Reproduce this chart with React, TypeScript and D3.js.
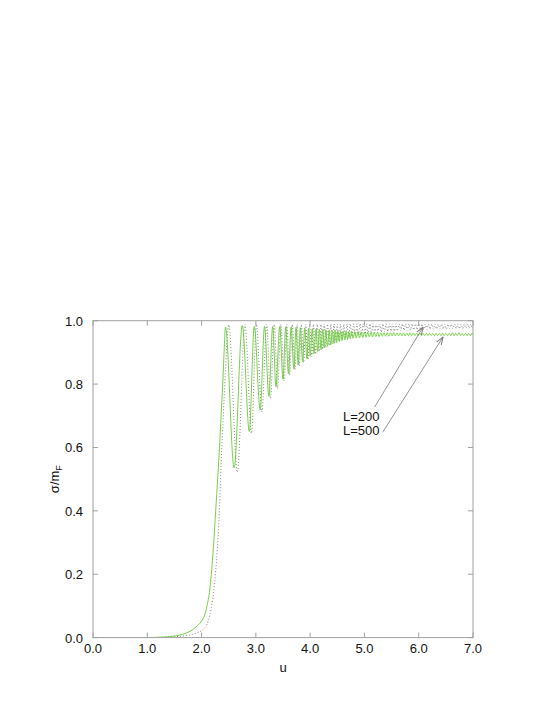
import React from "react";
import * as d3 from "d3";

const xTicks = [0, 1, 2, 3, 4, 5, 6, 7];
const yTicks = [0, 0.2, 0.4, 0.6, 0.8, 1.0];

// L=200 (black dotted): u, sigma/mF
const curveL200: [number, number][] = [
  [0, 0], [1.0, 0], [1.2, 0.0005], [1.4, 0.002], [1.6, 0.004], [1.8, 0.009], [1.9, 0.014], [2.0, 0.022],
  [2.05, 0.03], [2.1, 0.042], [2.15, 0.07], [2.18, 0.095], [2.22, 0.14], [2.26, 0.21], [2.29, 0.28],
  [2.33, 0.41], [2.36, 0.55], [2.4, 0.7], [2.44, 0.84], [2.47, 0.94], [2.5, 0.987],
  [2.66, 0.522], [2.8, 0.988], [2.92, 0.645], [3.01, 0.988], [3.11, 0.712], [3.2, 0.988], [3.27, 0.755],
  [3.34, 0.988], [3.4, 0.786], [3.46, 0.988], [3.52, 0.81], [3.57, 0.988], [3.62, 0.829], [3.67, 0.988],
  [3.72, 0.845], [3.76, 0.988], [3.8, 0.857], [3.84, 0.988], [3.88, 0.868], [3.92, 0.988], [3.96, 0.878],
  [3.99, 0.988], [4.03, 0.887], [4.06, 0.988], [4.1, 0.895], [4.13, 0.988], [4.17, 0.903], [4.2, 0.988],
  [4.23, 0.91], [4.26, 0.989], [4.29, 0.916], [4.32, 0.989], [4.35, 0.922], [4.38, 0.989], [4.41, 0.927],
  [4.44, 0.989], [4.47, 0.932], [4.5, 0.989], [4.53, 0.936], [4.56, 0.989], [4.59, 0.94], [4.62, 0.989],
  [4.65, 0.944], [4.68, 0.989], [4.71, 0.947], [4.74, 0.99], [4.77, 0.95], [4.8, 0.99], [4.83, 0.952],
  [4.86, 0.99], [4.89, 0.954], [4.92, 0.99], [4.95, 0.956], [4.98, 0.99], [5.01, 0.958], [5.04, 0.99],
  [5.07, 0.959], [5.1, 0.99], [5.13, 0.96], [5.16, 0.99], [5.19, 0.962], [5.22, 0.99], [5.25, 0.963],
  [5.28, 0.99], [5.31, 0.964], [5.34, 0.99], [5.37, 0.965], [5.4, 0.99], [5.43, 0.966], [5.46, 0.99],
  [5.49, 0.967], [5.52, 0.99], [5.55, 0.967], [5.58, 0.99], [5.61, 0.968], [5.64, 0.99], [5.67, 0.969],
  [5.7, 0.99], [5.73, 0.97], [5.76, 0.99], [5.79, 0.97], [5.82, 0.99], [5.85, 0.971], [5.88, 0.99],
  [5.91, 0.971], [5.94, 0.99], [5.97, 0.972], [6.0, 0.99], [6.03, 0.972], [6.06, 0.989], [6.09, 0.972],
  [6.12, 0.989], [6.15, 0.973], [6.18, 0.989], [6.21, 0.973], [6.24, 0.989], [6.27, 0.973], [6.3, 0.989],
  [6.33, 0.974], [6.36, 0.989], [6.39, 0.974], [6.42, 0.989], [6.45, 0.974], [6.48, 0.989], [6.51, 0.974],
  [6.54, 0.989], [6.57, 0.975], [6.6, 0.989], [6.63, 0.975], [6.66, 0.989], [6.69, 0.975], [6.72, 0.989],
  [6.75, 0.975], [6.78, 0.989], [6.81, 0.975], [6.84, 0.989], [6.87, 0.976], [6.9, 0.989], [6.93, 0.976],
  [6.96, 0.989], [6.99, 0.976], [7.0, 0.98],
];

// L=500 (green)
const curveL500: [number, number][] = [
  [0, 0], [1.0, 0], [1.2, 0.001], [1.4, 0.003], [1.6, 0.008], [1.7, 0.013], [1.8, 0.021], [1.9, 0.034],
  [2.0, 0.052], [2.05, 0.068], [2.1, 0.1], [2.15, 0.15], [2.18, 0.2], [2.22, 0.29], [2.26, 0.4],
  [2.3, 0.51], [2.33, 0.6], [2.36, 0.7], [2.39, 0.8], [2.42, 0.92], [2.44, 0.98],
  [2.6, 0.535], [2.75, 0.985], [2.88, 0.65], [2.97, 0.982], [3.08, 0.719], [3.16, 0.982], [3.24, 0.762],
  [3.31, 0.982], [3.37, 0.792], [3.44, 0.982], [3.5, 0.815], [3.55, 0.981], [3.6, 0.833], [3.65, 0.98],
  [3.7, 0.848], [3.74, 0.979], [3.78, 0.86], [3.82, 0.978], [3.86, 0.87], [3.9, 0.977], [3.94, 0.88],
  [3.97, 0.976], [4.0, 0.888], [4.04, 0.975], [4.07, 0.896], [4.11, 0.974], [4.14, 0.903], [4.17, 0.973],
  [4.2, 0.909], [4.23, 0.972], [4.26, 0.914], [4.29, 0.971], [4.32, 0.919], [4.35, 0.97], [4.38, 0.924],
  [4.41, 0.969], [4.44, 0.928], [4.46, 0.969], [4.49, 0.931], [4.51, 0.968], [4.54, 0.934], [4.56, 0.967],
  [4.59, 0.937], [4.61, 0.967], [4.64, 0.939], [4.66, 0.966], [4.69, 0.941], [4.71, 0.966], [4.74, 0.943],
  [4.76, 0.966], [4.79, 0.944], [4.82, 0.965], [4.85, 0.945], [4.88, 0.965], [4.91, 0.946], [4.94, 0.964],
  [4.97, 0.947], [5.0, 0.964], [5.03, 0.948], [5.06, 0.963], [5.09, 0.949], [5.12, 0.963], [5.15, 0.949],
  [5.18, 0.963], [5.21, 0.95], [5.24, 0.963], [5.27, 0.95], [5.3, 0.962], [5.33, 0.951], [5.36, 0.962],
  [5.39, 0.951], [5.42, 0.962], [5.45, 0.951], [5.48, 0.962], [5.51, 0.952], [5.54, 0.962], [5.57, 0.952],
  [5.6, 0.961], [5.63, 0.952], [5.66, 0.961], [5.69, 0.952], [5.72, 0.961], [5.75, 0.952], [5.78, 0.961],
  [5.81, 0.953], [5.84, 0.961], [5.87, 0.953], [5.9, 0.961], [5.93, 0.953], [5.96, 0.961], [5.99, 0.953],
  [6.02, 0.961], [6.05, 0.953], [6.08, 0.96], [6.11, 0.953], [6.14, 0.96], [6.17, 0.953], [6.2, 0.96],
  [6.23, 0.953], [6.26, 0.96], [6.29, 0.953], [6.32, 0.96], [6.35, 0.953], [6.38, 0.96], [6.41, 0.953],
  [6.44, 0.96], [6.47, 0.953], [6.5, 0.96], [6.53, 0.953], [6.56, 0.96], [6.59, 0.953], [6.62, 0.962],
  [6.65, 0.953], [6.68, 0.96], [6.71, 0.953], [6.74, 0.962], [6.77, 0.953], [6.8, 0.96], [6.83, 0.953],
  [6.86, 0.96], [6.89, 0.953], [6.92, 0.96], [6.95, 0.953], [6.98, 0.96], [7.0, 0.956],
];

// annotations: label anchor, arrow start, arrow tip (data coords)
const labels = ["L=200", "L=500"];
const labelPos: [number, number][] = [[4.605, 0.685], [4.605, 0.639]];
const arrowFrom: [number, number][] = [[5.19, 0.728], [5.34, 0.649]];
const arrowTo: [number, number][] = [[6.08, 0.98], [6.45, 0.949]];

const W = 554;
const H = 717;
const left = 93;
const right = 473;
const top = 320.7;
const bottom = 637.6;
const FONT = "'Liberation Sans', Arial, Helvetica, sans-serif";

export default function App() {
  const x = d3.scaleLinear().domain([0, 7]).range([left, right]);
  const y = d3.scaleLinear().domain([0, 1]).range([bottom, top]);
  const line = d3
    .line<[number, number]>()
    .x((d) => x(d[0]))
    .y((d) => y(d[1]))
    .curve(d3.curveMonotoneX);
  const frame = "#a0a0a0";
  const tl = 5;
  return (
    <svg
      width={W}
      height={H}
      style={{ position: "absolute", left: 0, top: 0, background: "#fff" }}
      fontFamily={FONT}
    >
      <defs>
        <clipPath id="plot">
          <rect x={left} y={top} width={right - left} height={bottom - top} />
        </clipPath>
        <marker id="ah" viewBox="0 0 10 10" refX="10" refY="5" markerWidth="8" markerHeight="8" orient="auto" markerUnits="userSpaceOnUse">
          <path d="M0,1.5 L10,5 L0,8.5" fill="none" stroke="#777" strokeWidth={1.2} />
        </marker>
      </defs>
      <rect x={0} y={0} width={W} height={H} fill="#fff" />
      {/* ticks */}
      {xTicks.map((t) => (
        <g key={"x" + t}>
          <line x1={x(t)} x2={x(t)} y1={bottom} y2={bottom - tl} stroke={frame} />
          <line x1={x(t)} x2={x(t)} y1={top} y2={top + tl} stroke={frame} />
          <text x={x(t)} y={bottom + 15.5} fontSize={13} textAnchor="middle" fill="#111">
            {t.toFixed(1)}
          </text>
        </g>
      ))}
      {yTicks.map((t) => (
        <g key={"y" + t}>
          <line x1={left} x2={left + tl} y1={y(t)} y2={y(t)} stroke={frame} />
          <line x1={right} x2={right - tl} y1={y(t)} y2={y(t)} stroke={frame} />
          <text x={left - 10} y={y(t) + 5} fontSize={13} textAnchor="end" fill="#111">
            {t.toFixed(1)}
          </text>
        </g>
      ))}
      <g clipPath="url(#plot)">
        <path d={line(curveL200) || ""} fill="none" stroke="#777" strokeWidth={0.9} strokeDasharray="1 2" />
        <path d={line(curveL500) || ""} fill="none" stroke="#66cc33" strokeWidth={0.9} />
      </g>
      <rect x={left} y={top} width={right - left} height={bottom - top} fill="none" stroke={frame} strokeWidth={1} />
      {/* annotations */}
      {labels.map((l, i) => (
        <g key={l}>
          <line
            x1={x(arrowFrom[i][0])}
            y1={y(arrowFrom[i][1])}
            x2={x(arrowTo[i][0])}
            y2={y(arrowTo[i][1])}
            stroke="#777"
            strokeWidth={0.8}
            markerEnd="url(#ah)"
          />
          <text x={x(labelPos[i][0])} y={y(labelPos[i][1])} fontSize={13} fill="#111">
            {l}
          </text>
        </g>
      ))}
      {/* axis labels */}
      <text x={(left + right) / 2} y={672} fontSize={13} textAnchor="middle" fill="#111">
        u
      </text>
      <text transform={`translate(59, ${(top + bottom) / 2}) rotate(-90)`} fontSize={13} textAnchor="middle" fill="#111">
        σ/m<tspan fontSize={9} dy={3}>F</tspan>
      </text>
    </svg>
  );
}
